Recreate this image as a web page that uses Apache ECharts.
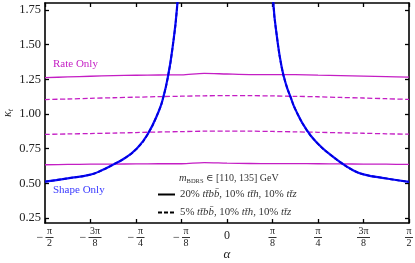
<!DOCTYPE html>
<html>
<head>
<meta charset="utf-8">
<script src="https://cdn.jsdelivr.net/npm/echarts@6/dist/echarts.min.js"></script>
<style>html,body{margin:0;padding:0;background:#fff}#c{width:415px;height:263px}</style>
</head>
<body>
<div id="c"></div>
<script>
// alpha in units of pi/8
const alpha = [-4,-3.5,-3,-2.5,-2,-1.5,-1,-0.5,0,0.5,1,1.5,2,2.5,3,3.5,4];
const rateUp20   = [1.262,1.267,1.272,1.276,1.279,1.281,1.282,1.293,1.288,1.284,1.284,1.283,1.280,1.277,1.273,1.269,1.265];
const rateUp5    = [1.104,1.108,1.113,1.117,1.121,1.125,1.128,1.131,1.132,1.132,1.130,1.127,1.124,1.119,1.115,1.110,1.105];
const rateDown5  = [0.853,0.856,0.859,0.862,0.866,0.870,0.873,0.876,0.877,0.876,0.874,0.871,0.868,0.864,0.861,0.857,0.854];
const rateDown20 = [0.634,0.636,0.638,0.639,0.640,0.641,0.641,0.649,0.645,0.643,0.642,0.642,0.641,0.640,0.639,0.638,0.636];

const shapeAlpha = [-4,-3.5,-3,-2.75,-2.5,-2.25,-2,-1.75,-1.5,-1.4,-1.3,-1.2,-1.1,-1.0,0,0.96,1.02,1.1,1.2,1.3,1.4,1.5,1.75,2,2.25,2.5,2.75,3,3.5,4];
const shape20 = [0.512,0.536,0.563,0.594,0.635,0.681,0.745,0.85,1.02,1.12,1.265,1.47,1.76,2.25,null,2.2,1.79,1.55,1.34,1.21,1.12,1.035,0.885,0.785,0.712,0.65,0.598,0.565,0.535,0.51];
const shape5  = [0.512,0.536,0.563,0.594,0.635,0.681,0.745,0.85,1.02,1.12,1.265,1.47,1.76,2.25,null,2.2,1.79,1.55,1.34,1.21,1.12,1.035,0.885,0.785,0.712,0.65,0.598,0.565,0.535,0.51];

const xTicks = [-4,-3,-2,-1,0,1,2,3,4];
const yTicks = [0.25,0.5,0.75,1.0,1.25,1.5,1.75];

const MAG = '#c41ec4';
const BLUE = '#0a0aff';
const SERIF = '"Liberation Serif", "DejaVu Serif", serif';

const pair = (xs, ys) => xs.map((x, i) => [x, ys[i] === null ? '-' : ys[i]]);

function xLab(v) {
  if (v === 0) return '{z|0}';
  const a = Math.abs(v);
  const big = a === 3;
  const num = big ? '3π' : 'π';
  const den = {1:'8',2:'4',3:'8',4:'2'}[a];
  const n = big ? 'n3' : 'n', b = big ? 'b3' : 'b', d = big ? 'd3' : 'd';
  if (v < 0) return '{sp| }{' + n + '|' + num + '}\n{mi|−}{' + b + '| }\n{sp| }{' + d + '|' + den + '}';
  return '{' + n + '|' + num + '}\n{' + b + '| }\n{' + d + '|' + den + '}';
}

const fracRich = {
  z: {fontSize: 12, lineHeight: 18, fontFamily: SERIF, color: '#222'},
  n: {fontSize: 10, lineHeight: 9, width: 8, align: 'center', fontFamily: SERIF, color: '#222'},
  n3: {fontSize: 10, lineHeight: 9, width: 13, align: 'center', fontFamily: SERIF, color: '#222'},
  d: {fontSize: 10, lineHeight: 9, width: 8, align: 'center', fontFamily: SERIF, color: '#222'},
  d3: {fontSize: 10, lineHeight: 9, width: 13, align: 'center', fontFamily: SERIF, color: '#222'},
  b: {fontSize: 1, lineHeight: 3, height: 1, width: 8, backgroundColor: '#333'},
  b3: {fontSize: 1, lineHeight: 3, height: 1, width: 13, backgroundColor: '#333'},
  sp: {fontSize: 10, lineHeight: 9, width: 9},
  mi: {fontSize: 12, lineHeight: 3, width: 9, align: 'left', fontFamily: SERIF, color: '#222'}
};

const axisLineStyle = {onZero: false, lineStyle: {color: '#000', width: 1.6}};
const tickStyle = {inside: true, length: 4, lineStyle: {color: '#000', width: 1.3}};
const YMIN = 0.214, YMAX = 1.80;

const chart = echarts.init(document.getElementById('c'), null, {renderer: 'canvas'});
chart.setOption({
  animation: false,
  grid: {left: 45, right: 6, top: 3, bottom: 40, containLabel: false, outerBoundsMode: 'none'},
  title: {
    text: '{i|m}{s|BDRS}{r| ∈ [110, 135] GeV}',
    left: 174, top: 166,
    textStyle: {
      fontWeight: 'normal',
      rich: {
        i: {fontFamily: SERIF, fontStyle: 'italic', fontWeight: 'normal', fontSize: 10.5, color: '#333', lineHeight: 14},
        s: {fontFamily: SERIF, fontWeight: 'normal', fontSize: 6.5, color: '#333', lineHeight: 14, verticalAlign: 'bottom', padding: [3,0,0,0]},
        r: {fontFamily: SERIF, fontWeight: 'normal', fontSize: 10, color: '#333', lineHeight: 14}
      }
    }
  },
  legend: {
    orient: 'vertical', left: 152, top: 184, itemWidth: 17, itemHeight: 8, itemGap: 7,
    data: ['L20', 'L5'],
    itemStyle: {opacity: 0},
    formatter: function (name) {
      if (name === 'L20') return '20% {i|tt̄bb̄}, 10% {i|tt̄h}, 10% {i|tt̄z}';
      return '5% {i|tt̄bb̄}, 10% {i|tt̄h}, 10% {i|tt̄z}';
    },
    textStyle: {fontFamily: SERIF, fontSize: 10.8, color: '#333',
      rich: {i: {fontFamily: SERIF, fontStyle: 'italic', fontSize: 10.8, color: '#333'}}}
  },
  graphic: [
    {type: 'text', left: 53, top: 59, style: {text: 'Rate Only', fill: MAG, font: '11px ' + SERIF}},
    {type: 'text', left: 53, top: 185, style: {text: 'Shape Only', fill: '#3a3aff', font: '11px ' + SERIF}}
  ],
  xAxis: [
    {type: 'value', min: -4, max: 4, interval: 1, position: 'bottom',
     axisLine: axisLineStyle, axisTick: tickStyle, splitLine: {show: false},
     axisLabel: {margin: 4, formatter: xLab, rich: fracRich},
     name: 'α', nameLocation: 'middle', nameGap: 25, nameMoveOverlap: false,
     nameTextStyle: {fontFamily: SERIF, fontStyle: 'italic', fontSize: 13, color: '#222'}},
    {type: 'value', min: -4, max: 4, interval: 1, position: 'top',
     axisLine: axisLineStyle, axisTick: tickStyle, splitLine: {show: false}, axisLabel: {show: false}}
  ],
  yAxis: [
    {type: 'value', min: YMIN, max: YMAX, position: 'left',
     axisLine: axisLineStyle, splitLine: {show: false},
     axisTick: Object.assign({customValues: yTicks}, tickStyle),
     axisLabel: {customValues: yTicks, margin: 4, formatter: v => v.toFixed(2),
       fontFamily: SERIF, fontSize: 12.5, color: '#222'},
     name: '{k|κ}{t|t}', nameLocation: 'middle', nameGap: 30, nameRotate: 90, nameMoveOverlap: false,
     nameTextStyle: {rich: {
       k: {fontFamily: SERIF, fontStyle: 'italic', fontSize: 12, color: '#222', lineHeight: 14},
       t: {fontFamily: SERIF, fontStyle: 'italic', fontSize: 8, color: '#222', lineHeight: 14, verticalAlign: 'bottom'}
     }}},
    {type: 'value', min: YMIN, max: YMAX, position: 'right',
     axisLine: axisLineStyle, splitLine: {show: false},
     axisTick: Object.assign({customValues: yTicks}, tickStyle),
     axisLabel: {show: false}}
  ],
  series: [
    {name: 'rateUp20', type: 'line', data: pair(alpha, rateUp20), symbol: 'none', smooth: 0.3,
     lineStyle: {color: MAG, width: 1.3}},
    {name: 'rateDown20', type: 'line', data: pair(alpha, rateDown20), symbol: 'none', smooth: 0.3,
     lineStyle: {color: MAG, width: 1.3}},
    {name: 'rateUp5', type: 'line', data: pair(alpha, rateUp5), symbol: 'none', smooth: 0.3,
     lineStyle: {color: MAG, width: 1.3, type: [5, 2.5]}},
    {name: 'rateDown5', type: 'line', data: pair(alpha, rateDown5), symbol: 'none', smooth: 0.3,
     lineStyle: {color: MAG, width: 1.3, type: [5, 2.5]}},
    {name: 'shape20', type: 'line', data: pair(shapeAlpha, shape20), symbol: 'none', smooth: 0.5,
     connectNulls: false, clip: true,
     lineStyle: {color: BLUE, width: 2.2}},
    {name: 'shape5', type: 'line', data: pair(shapeAlpha, shape5), symbol: 'none', smooth: 0.5,
     connectNulls: false, clip: true,
     lineStyle: {color: '#0000d8', width: 1.8, type: [4, 2]}},
    {name: 'L20', type: 'line', data: [], symbol: 'none', symbolSize: 0, itemStyle: {color: '#000'}, lineStyle: {color: '#000', width: 1.4}},
    {name: 'L5', type: 'line', data: [], symbol: 'none', symbolSize: 0, itemStyle: {color: '#000'}, lineStyle: {color: '#000', width: 1.4, type: [4, 2]}}
  ]
});
</script>
</body>
</html>
